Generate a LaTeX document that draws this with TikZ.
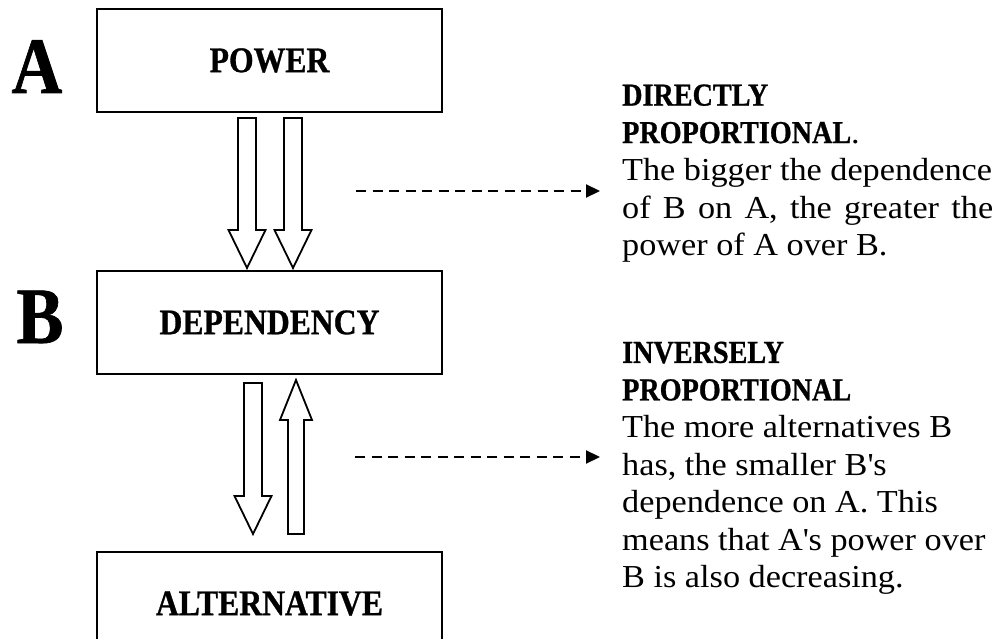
\documentclass[tikz,border=0pt]{standalone}
\usepackage{fontspec}
\setmainfont[FakeStretch=1.07]{Liberation Serif}
\newfontfamily\headfont[FakeStretch=0.88, BoldFeatures={FakeBold=0.8}]{Liberation Serif}
\usetikzlibrary{positioning,calc,arrows.meta}

\tikzset{
	box/.style={draw, line width=2pt, minimum width=345pt, minimum height=103pt, inner sep=0pt,
		font=\headfont\bfseries\fontsize{36}{40}\selectfont},
	bigletter/.style={anchor=base, inner sep=0pt, font=\headfont\bfseries\fontsize{80}{80}\selectfont},
	blockarrow/.style={draw, line width=1.8pt, fill=white, line join=miter},
	pointer/.style={line width=2.2pt, dash pattern=on 10pt off 6.5pt, -{Triangle[length=14pt,width=13pt]}},
	note/.style={anchor=north west, inner sep=0pt, align=left, font=\fontsize{32}{37.5}\selectfont}
}
\newcommand{\headline}[1]{{\headfont\bfseries\fontsize{32}{37.5}\selectfont #1}}
% hollow block arrows: #1 = tail, #2 = tip
\newcommand{\blkdown}[2]{\draw[blockarrow] ($(#1)+(-9,0)$) -- ($(#2)+(-9,-38)$) -- ($(#2)+(-18.5,-38)$) -- (#2)
	-- ($(#2)+(18.5,-38)$) -- ($(#2)+(9,-38)$) -- ($(#1)+(9,0)$) -- cycle;}
\newcommand{\blkup}[2]{\draw[blockarrow] ($(#1)+(-8,0)$) -- ($(#2)+(-8,40)$) -- ($(#2)+(-16,40)$) -- (#2)
	-- ($(#2)+(16,40)$) -- ($(#2)+(8,40)$) -- ($(#1)+(8,0)$) -- cycle;}

\begin{document}
\begin{tikzpicture}[x=1pt, y=-1pt, node distance=157pt]
\useasboundingbox (0,0) rectangle (994,639);
\clip (0,0) rectangle (994,639);

% boxes
\node[box] (power) at (269.5,60.5) {POWER};
\node[box, below=of power] (dep) {DEPENDENCY};
\node[box, below=176pt of dep] (alt) {ALTERNATIVE};

\node[bigletter] (la) at (37,93) {A};
\node[bigletter] (lb) at (40,343) {B};

% A -> B
\coordinate (a1t) at ($(power.south)+(-22.5,5)$);
\coordinate (a1h) at ($(dep.north)+(-22.5,-2)$);
\coordinate (a2t) at ($(power.south)+(23.5,5)$);
\coordinate (a2h) at ($(dep.north)+(23.5,-2)$);
\blkdown{a1t}{a1h}
\blkdown{a2t}{a2h}

% B <-> alternative
\coordinate (b1t) at ($(dep.south)+(-16.5,8)$);
\coordinate (b1h) at ($(alt.north)+(-16.5,-17)$);
\coordinate (b2t) at ($(alt.north)+(26.5,-17)$);
\coordinate (b2h) at ($(dep.south)+(26.5,5)$);
\blkdown{b1t}{b1h}
\blkup{b2t}{b2h}

% notes
\node[note] (direct) at (622,84.2) {\headline{DIRECTLY}\\
	\headline{PROPORTIONAL}.\\
	The bigger the dependence\\
	\makebox[371pt][s]{of B on A, the greater the}\\
	power of A over B.};
\node[note] (inverse) at (622,341.5) {\headline{INVERSELY}\\
	\headline{PROPORTIONAL}\\
	The more alternatives B\\
	has, the smaller B\textquotesingle s\\
	dependence on A. This\\
	means that A\textquotesingle s power over\\
	B is also decreasing.};

\coordinate (p1s) at (356,191);
\coordinate (p1e) at (600,191);
\coordinate (p2s) at (355,457);
\coordinate (p2e) at (600,457);
\draw[pointer] (p1s) -- (p1e);
\draw[pointer] (p2s) -- (p2e);
\end{tikzpicture}
\end{document}
